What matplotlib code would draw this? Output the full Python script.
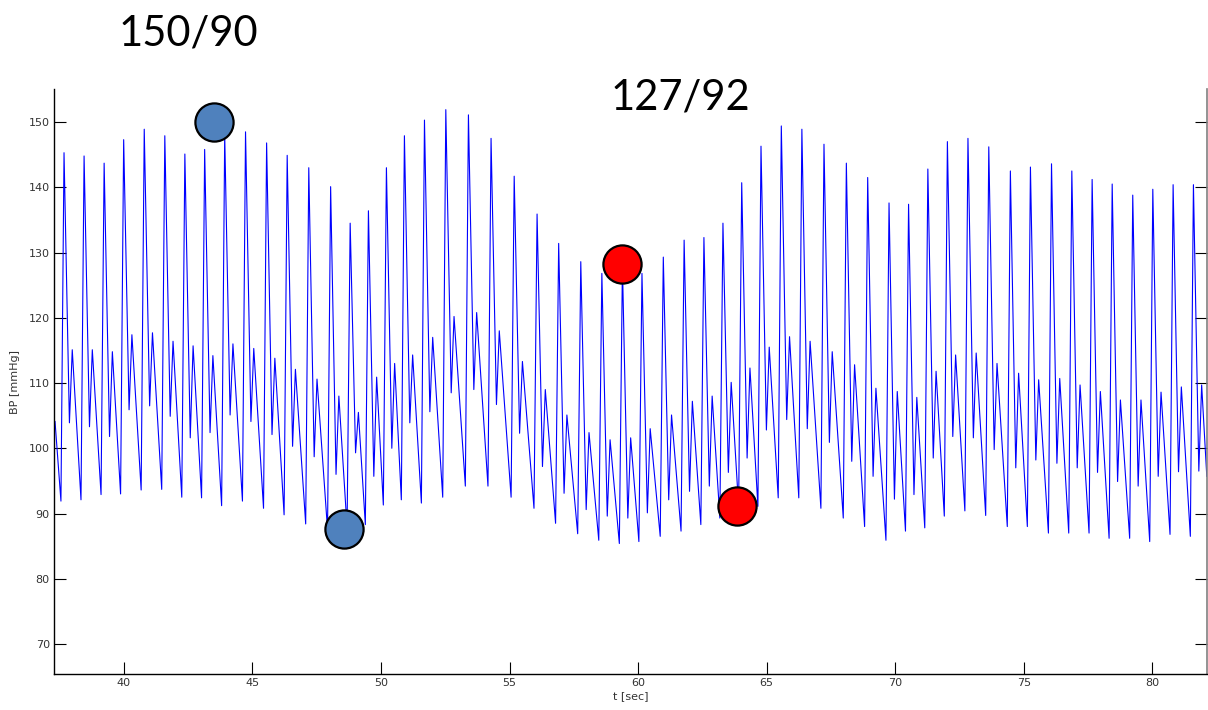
import numpy as np
from matplotlib import pyplot as plt

# beat-by-beat values (t in sec, pressures in mmHg)
peak_t = [37.67, 38.45, 39.23, 39.99, 40.79, 41.59, 42.37, 43.14, 43.92, 44.73,
          45.55, 46.35, 47.19, 48.04, 48.80, 49.51, 50.21, 50.91, 51.69, 52.52,
          53.40, 54.28, 55.18, 56.07, 56.91, 57.77, 58.59, 59.39, 60.15, 60.98,
          61.79, 62.56, 63.30, 64.03, 64.78, 65.57, 66.37, 67.23, 68.10, 68.93,
          69.76, 70.52, 71.27, 72.03, 72.83, 73.64, 74.48, 75.26, 76.08, 76.87,
          77.66, 78.44, 79.24, 80.02, 80.81, 81.60]
systolic = [145.3, 144.8, 143.7, 147.3, 148.9, 147.9, 145.1, 145.8, 148.0, 148.5,
            146.8, 144.9, 143.0, 140.1, 134.5, 136.4, 143.0, 147.9, 150.3, 151.9,
            151.1, 147.5, 141.7, 135.9, 131.4, 128.6, 126.8, 128.0, 126.8, 129.3,
            131.9, 132.3, 134.5, 140.7, 146.3, 149.4, 148.9, 146.6, 143.7, 141.5,
            137.6, 137.4, 142.8, 147.0, 147.5, 146.2, 142.5, 143.1, 143.6, 142.5,
            141.2, 140.5, 138.8, 139.7, 140.4, 140.4]
notch = [103.9, 103.3, 101.8, 105.9, 106.5, 104.9, 101.6, 102.4, 105.1, 104.1,
         102.1, 100.3, 98.7, 96.0, 99.3, 95.7, 100.0, 103.9, 105.6, 108.5,
         109.0, 106.7, 102.3, 97.2, 93.1, 90.6, 89.6, 89.3, 90.1, 92.1,
         93.4, 94.2, 96.3, 98.5, 102.8, 104.4, 103.0, 100.9, 98.0, 95.7,
         92.2, 92.9, 98.5, 101.8, 101.6, 99.8, 97.0, 98.2, 97.7, 97.0,
         96.3, 94.9, 94.2, 95.7, 96.4, 96.5]
dicrotic = [115.1, 115.1, 114.8, 117.4, 117.7, 116.4, 115.7, 114.2, 116.0, 115.3,
            113.8, 112.1, 110.6, 108.0, 105.5, 110.9, 113.0, 114.3, 117.0, 120.2,
            120.8, 118.0, 113.3, 109.0, 105.1, 102.4, 101.3, 101.6, 103.0, 105.1,
            107.2, 108.0, 110.1, 112.3, 115.5, 117.1, 116.4, 114.8, 112.8, 109.2,
            108.7, 107.8, 111.8, 114.3, 114.6, 113.0, 111.5, 110.5, 110.7, 109.7,
            108.7, 107.4, 107.4, 108.6, 109.4, 109.7]
diastolic = [91.9, 92.1, 92.9, 93.0, 93.6, 93.7, 92.5, 92.4, 91.2, 91.9,
             90.8, 89.8, 88.4, 87.5, 87.8, 88.3, 91.3, 92.1, 91.6, 92.5,
             94.2, 94.2, 92.5, 90.8, 88.5, 86.9, 85.9, 85.4, 85.7, 86.5,
             87.3, 88.3, 89.3, 91.0, 91.1, 92.4, 92.4, 90.8, 89.3, 88.0,
             85.9, 87.3, 87.8, 89.6, 90.4, 89.7, 88.0, 88.0, 87.0, 87.0,
             87.0, 86.2, 86.2, 85.7, 86.8, 86.5]
start_bp = (37.32, 104.1)
end_bp = (82.12, 95.7)

# marked readings
blue_t = [43.50, 48.55]
blue_bp = [150.0, 87.7]
red_t = [59.36, 63.83]
red_bp = [128.3, 91.2]

# beat shape: time offsets from each systolic peak
UP, NOTCH, DIC = 0.12, 0.21, 0.32

t, bp = [start_bp[0]], [start_bp[1]]
for pk, s, n, d, lo in zip(peak_t, systolic, notch, dicrotic, diastolic):
    t += [pk - UP, pk, pk + NOTCH, pk + DIC]
    bp += [lo, s, n, d]
t.append(end_bp[0])
bp.append(end_bp[1])

fig = plt.figure(figsize=(12.08, 7.10), dpi=100)
ax = fig.add_axes([0.0447, 0.0507, 0.9543, 0.8239])
ax.plot(t, bp, color='blue', lw=0.8)
ax.plot(blue_t, blue_bp, 'o', ms=27.5, mfc='#4F81BD', mec='black', mew=1.6, zorder=5)
ax.plot(red_t, red_bp, 'o', ms=27.5, mfc='#FF0000', mec='black', mew=1.6, zorder=5)

ax.set_xlim(37.28, 82.12)
ax.set_ylim(65.4, 155.06)
ax.set_xticks(np.arange(40, 81, 5))
ax.set_yticks(np.arange(70, 151, 10))
ax.tick_params(direction='in', length=8.5, width=0.8, labelsize=8, labelcolor='#333333',
               right=True, top=False, pad=3)
ax.spines['top'].set_visible(False)
ax.spines['right'].set_color('#808080')
ax.spines['right'].set_linewidth(1.2)
for s in ('left', 'bottom'):
    ax.spines[s].set_linewidth(1.0)
ax.set_xlabel('t [sec]', fontsize=8, color='#333333', labelpad=2)
ax.set_ylabel('BP [mmHg]', fontsize=8, color='#333333', labelpad=6)

fig.text(188 / 1208, 1 - 33 / 710, '150/90', fontsize=30, family='Lato', ha='center', va='center')
fig.text(680 / 1208, 1 - 97 / 710, '127/92', fontsize=30, family='Lato', ha='center', va='center')

plt.savefig('out.png', dpi=100)
